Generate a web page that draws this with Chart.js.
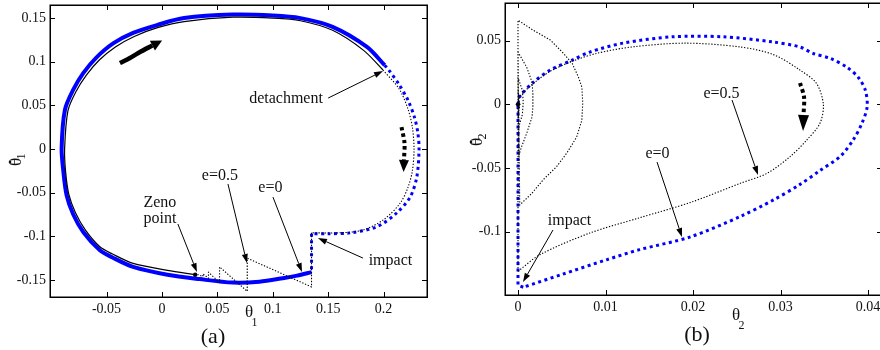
<!DOCTYPE html>
<html><head><meta charset="utf-8">
<script src="https://cdn.jsdelivr.net/npm/chart.js@4.4.1/dist/chart.umd.min.js"></script>
<style>
html,body{margin:0;padding:0;background:#fff;overflow:hidden;width:880px;height:350px;}
#wrap{position:relative;width:880px;height:350px;overflow:hidden;background:#fff;}
canvas{position:absolute;top:0;}
#ca{left:0;} #cb{left:440px;}
</style></head><body>
<div id="wrap"><canvas id="ca" width="440" height="350"></canvas><canvas id="cb" width="460" height="350"></canvas></div>
<script>
// ---------- DATA: panel (a)  [theta1, dtheta1] ----------
const aStanceE0 = [[0.135,-0.141],[0.122,-0.145],[0.109,-0.148],[0.088,-0.152],[0.064,-0.153],[0.034,-0.149],[0.005,-0.144],[-0.026,-0.135],[-0.045,-0.124],[-0.056,-0.116],[-0.071,-0.095],[-0.080,-0.075],[-0.086,-0.053],[-0.089,-0.025],[-0.0905,0.001],[-0.0875,0.045],[-0.080,0.068],[-0.071,0.087],[-0.059,0.105],[-0.044,0.121],[-0.026,0.133],[-0.0045,0.142],[0.020,0.150],[0.064,0.154],[0.100,0.153],[0.125,0.150],[0.154,0.140],[0.185,0.117],[0.201,0.096]];
const aFlightE0 = [[0.201,0.096],[0.205,0.090],[0.214,0.074],[0.222,0.056],[0.228,0.036],[0.231,0.018],[0.232,-0.001],[0.230,-0.032],[0.224,-0.055],[0.212,-0.073],[0.194,-0.089],[0.170,-0.096],[0.150,-0.097],[0.135,-0.097]];
const aImpactE0 = [[0.135,-0.097],[0.135,-0.141]];
const aStanceE05 = [[0.030,-0.144],[0.005,-0.139],[-0.026,-0.131],[-0.045,-0.120],[-0.056,-0.112],[-0.069,-0.093],[-0.078,-0.073],[-0.084,-0.052],[-0.087,-0.025],[-0.0878,0.001],[-0.0848,0.044],[-0.0775,0.066],[-0.068,0.085],[-0.0565,0.102],[-0.042,0.117],[-0.025,0.129],[-0.004,0.139],[0.020,0.146],[0.064,0.151],[0.100,0.150],[0.125,0.147],[0.154,0.136],[0.182,0.113],[0.1995,0.0905]];
const aFlightE05 = [[0.1995,0.0905],[0.214,0.069],[0.222,0.046],[0.226,0.025],[0.2275,0.000],[0.226,-0.025],[0.222,-0.044],[0.215,-0.062],[0.200,-0.081],[0.181,-0.093],[0.160,-0.096],[0.135,-0.096]];
const aImpactsE05 = [[0.135,-0.096],[0.135,-0.158],[0.077,-0.125],[0.077,-0.163],[0.052,-0.135],[0.052,-0.153],[0.042,-0.141],[0.042,-0.148],[0.037,-0.143],[0.037,-0.146],[0.033,-0.144],[0.030,-0.144]];
const aZeno = [[0.030,-0.144]];
const aArrowUp = [[-0.0379,0.0985],[-0.0289,0.1042],[-0.0190,0.1117],[-0.0086,0.1186]];
const aArrowDown = [[0.2162,0.0252],[0.2189,0.0069],[0.2184,-0.0126]];
const aTicksX = [-0.05,0,0.05,0.1,0.15,0.2];
const aTicksY = [-0.15,-0.1,-0.05,0,0.05,0.1,0.15];

// ---------- DATA: panel (b)  [theta2, dtheta2] ----------
const bFlightE0 = [[0,0],[0.0002,0.006],[0.0017,0.017],[0.0037,0.027],[0.0063,0.035],[0.0082,0.041],[0.012,0.048],[0.0177,0.053],[0.0234,0.053],[0.0291,0.049],[0.0322,0.045],[0.0337,0.040],[0.0357,0.036],[0.0376,0.029],[0.0389,0.021],[0.0397,0.011],[0.0399,-0.002],[0.0393,-0.015],[0.0383,-0.028],[0.0368,-0.041],[0.0345,-0.052],[0.0322,-0.063],[0.0292,-0.075],[0.0254,-0.088],[0.0197,-0.104],[0.0139,-0.114],[0.0101,-0.122],[0.005,-0.1335],[0.0006,-0.1435]];
const bImpactE0 = [[0.0006,-0.1435],[0,-0.142],[0,0]];
const bFlightE05 = [[0,0],[0.0002,0.006],[0.0017,0.016],[0.0037,0.026],[0.0063,0.034],[0.009,0.040],[0.013,0.045],[0.0191,0.048],[0.0254,0.045],[0.0292,0.039],[0.0322,0.027],[0.0341,0.0165],[0.0349,0.000],[0.0345,-0.015],[0.033,-0.028],[0.0311,-0.041],[0.0285,-0.054],[0.0254,-0.062],[0.0197,-0.077],[0.0139,-0.089],[0.0082,-0.101],[0.0025,-0.118],[0,-0.131]];
const bReboundsE05 = [[0,-0.131],[0,0.066],[0.0017,0.0583],[0.0037,0.0504],[0.0052,0.040],[0.0062,0.032],[0.0069,0.0214],[0.0073,0.0135],[0.0074,0.001],[0.0073,-0.0124],[0.0067,-0.0257],[0.0056,-0.038],[0.0044,-0.049],[0.0029,-0.059],[0.0016,-0.0697],[0.0002,-0.079],[0,0.041],[0.001,0.029],[0.0016,0.0175],[0.0017,0.0088],[0.0017,-0.002],[0.0016,-0.010],[0.001,-0.0226],[0.0004,-0.0334],[0.0001,-0.040],[0,0.021],[0.0005,0.011],[0.0006,0.002],[0.0005,-0.008],[0,-0.020],[0,0.010],[0.0002,0],[0,-0.010],[0,0]];
const bZeno = [[0,0]];
const bArrowDown = [[0.03223,0.0167],[0.03269,0.0057],[0.03263,-0.0084]];
const bTicksX = [0,0.01,0.02,0.03,0.04];
const bTicksY = [-0.1,-0.05,0,0.05];

// ---------- annotation layout (data coordinates) ----------
const aNotes = {
  texts: [['detachment',0.112,0.0573],['Zeno',-0.0018,-0.0613],['point',-0.0018,-0.0796],['e=0.5',0.0523,-0.0309],['e=0',0.0979,-0.0447],['impact',0.2062,-0.1283]],
  arrows: [[0.150,0.0584,0.1995,0.0893],[0.0144,-0.0859,0.0316,-0.141],[0.0596,-0.0401,0.0767,-0.1306],[0.1002,-0.055,0.1264,-0.1409],[0.1814,-0.1249,0.1408,-0.1019]]
};
const bNotes = {
  texts: [['e=0.5',0.02326,0.0081],['e=0',0.01594,-0.0390],['impact',0.00589,-0.0915]],
  arrows: [[0.02446,0.0034,0.02743,-0.0555],[0.01589,-0.0453,0.01874,-0.1041],[0.0040,-0.0986,0.00057,-0.1394]]
};

// ---------- rendering ----------
const FONT = "'Liberation Serif','Times New Roman',serif";
const BLUE = '#0000ff';
const INK = '#111';
const pts = arr => arr.map(p => ({x:p[0], y:p[1]}));
function ds(data, o){
  return Object.assign({data: pts(data), showLine:true, pointRadius:0, pointHoverRadius:0, fill:false, tension:0, borderCapStyle:'butt', borderJoinStyle:'round', borderColor:'#000'}, o);
}
function head(ctx, x1,y1,x2,y2,len,w, tipAtEnd){
  const dx=x2-x1, dy=y2-y1, d=Math.hypot(dx,dy)||1, ux=dx/d, uy=dy/d;
  let bx,by,tx,ty;
  if (tipAtEnd){ tx=x2; ty=y2; bx=x2-ux*len; by=y2-uy*len; }
  else { bx=x2; by=y2; tx=x2+ux*len; ty=y2+uy*len; }
  ctx.beginPath();
  ctx.moveTo(tx,ty);
  ctx.lineTo(bx-uy*w/2, by+ux*w/2);
  ctx.lineTo(bx+uy*w/2, by-ux*w/2);
  ctx.closePath(); ctx.fill();
  return [bx,by];
}
function titleText(ctx, x, y, main, sub, rot, dot, subDy){
  ctx.save(); ctx.translate(x,y); if (rot) ctx.rotate(-Math.PI/2);
  ctx.fillStyle=INK; ctx.font='17px '+FONT; ctx.textAlign='center'; ctx.textBaseline='middle';
  ctx.fillText(main,0,0);
  const w=ctx.measureText(main).width;
  if (dot){ ctx.beginPath(); ctx.arc(0,-7,1.3,0,2*Math.PI); ctx.fill(); }
  ctx.font='12px '+FONT; ctx.textAlign='left';
  ctx.fillText(sub, w/2-1.5, subDy);
  ctx.restore();
}
function deco(notes, xt, yt, titles){
  return {
    id:'deco',
    afterDatasetsDraw(chart){
      const {ctx, chartArea:a, scales:{x,y}} = chart;
      const X=v=>x.getPixelForValue(v), Y=v=>y.getPixelForValue(v);
      ctx.save();
      ctx.fillStyle='#000';
      chart.data.datasets.forEach((d,i)=>{
        if(!d.arrowHead) return;
        const el=chart.getDatasetMeta(i).data, p1=el[el.length-2], p2=el[el.length-1];
        head(ctx,p1.x,p1.y,p2.x,p2.y,d.arrowHead[0],d.arrowHead[1],false);
      });
      // frame with inward ticks
      ctx.strokeStyle='#000'; ctx.lineWidth=1.5;
      ctx.strokeRect(Math.round(a.left)+0.25, Math.round(a.top)+0.25, Math.round(a.right-a.left), Math.round(a.bottom-a.top));
      ctx.lineWidth=1;
      ctx.beginPath();
      xt.forEach(v=>{const p=Math.round(X(v))+0.5; ctx.moveTo(p,a.bottom); ctx.lineTo(p,a.bottom-5); ctx.moveTo(p,a.top); ctx.lineTo(p,a.top+5);});
      yt.forEach(v=>{const p=Math.round(Y(v))+0.5; ctx.moveTo(a.left,p); ctx.lineTo(a.left+5,p); ctx.moveTo(a.right,p); ctx.lineTo(a.right-5,p);});
      ctx.stroke();
      // annotation arrows
      ctx.lineWidth=1; ctx.strokeStyle='#000';
      notes.arrows.forEach(([x1,y1,x2,y2])=>{
        const sx=X(x1), sy=Y(y1), ex=X(x2), ey=Y(y2);
        const [bx,by]=head(ctx,sx,sy,ex,ey,9,6,true);
        ctx.beginPath(); ctx.moveTo(sx,sy); ctx.lineTo(bx,by); ctx.stroke();
      });
      ctx.fillStyle=INK; ctx.font='16px '+FONT; ctx.textAlign='center'; ctx.textBaseline='middle';
      notes.texts.forEach(([t,tx,ty])=>ctx.fillText(t,X(tx),Y(ty)));
      // axis titles and panel label
      titles.forEach(t=>titleText(ctx,t.x,t.y,'θ',t.sub,t.rot,t.dot,t.subDy));
      ctx.fillStyle=INK; ctx.font='22px '+FONT; ctx.textAlign='center'; ctx.textBaseline='middle';
      ctx.fillText(titles.panel[0], titles.panel[1], titles.panel[2]);
      ctx.restore();
    }
  };
}
function noPad(s){ s.paddingTop=0; s.paddingBottom=0; s.paddingLeft=0; s.paddingRight=0; }
function scaleCfg(xr, yr, xt, yt, yw, xh){
  const fmt = v => String(+(+v).toFixed(4));
  const common = {type:'linear', grid:{display:false, drawTicks:false}, border:{display:false}};
  return {
    x: Object.assign({}, common, {min:xr[0], max:xr[1],
      afterBuildTicks: s => { s.ticks = xt.map(v=>({value:v})); },
      afterFit: s => { s.height = xh; noPad(s); },
      ticks:{padding:4, color:INK, font:{family:FONT,size:14}, callback:fmt, maxRotation:0, autoSkip:false}}),
    y: Object.assign({}, common, {min:yr[0], max:yr[1],
      afterBuildTicks: s => { s.ticks = yt.map(v=>({value:v})); },
      afterFit: s => { s.width = yw; noPad(s); },
      ticks:{padding:4, color:INK, font:{family:FONT,size:14}, callback:fmt, autoSkip:false}})
  };
}
function baseOpts(pad, scales){
  return {responsive:false, animation:false, devicePixelRatio:1, events:[],
    layout:{autoPadding:false, padding:pad},
    plugins:{legend:{display:false}, tooltip:{enabled:false}},
    scales};
}
const DOT = {borderWidth:1.1, borderDash:[1.3,1.7]};

// panel (a)
const titlesA = [{x:249,y:313,sub:'1',rot:false,dot:false,subDy:10},{x:17,y:162,sub:'1',rot:true,dot:true,subDy:5}];
titlesA.panel = ['(a)',213,337];
new Chart(document.getElementById('ca'), {
  type:'scatter',
  data:{datasets:[
    ds(aStanceE0,{borderColor:BLUE, borderWidth:4, tension:0.3, order:5}),
    ds(aFlightE0,{borderColor:BLUE, borderWidth:3, borderDash:[3,3.5], tension:0.3, order:5}),
    ds(aImpactE0,{borderColor:BLUE, borderWidth:3, borderDash:[3,3.5], order:5}),
    ds(aStanceE05,{borderWidth:1.2, tension:0.3, order:2}),
    ds(aFlightE05,Object.assign({tension:0.3, order:2},DOT)),
    ds(aImpactsE05,Object.assign({order:2},DOT)),
    ds(aArrowUp,{borderWidth:4.5, tension:0.3, order:1, arrowHead:[11,11]}),
    ds(aArrowDown,{borderWidth:4, borderDash:[3.5,3], tension:0.3, order:1, arrowHead:[12,10]}),
    ds(aZeno,{showLine:false, pointRadius:2.2, backgroundColor:'#000', borderWidth:0, order:0})
  ]},
  options: baseOpts({left:0,right:13,top:5,bottom:0}, scaleCfg([-0.101,0.2392],[-0.1695,0.165],aTicksX,aTicksY,50,53)),
  plugins:[deco(aNotes,aTicksX,aTicksY,titlesA)]
});

// panel (b)
const titlesB = [{x:296,y:316,sub:'2',rot:false,dot:false,subDy:10},{x:38,y:142,sub:'2',rot:true,dot:true,subDy:5}];
titlesB.panel = ['(b)',257,335];
new Chart(document.getElementById('cb'), {
  type:'scatter',
  data:{datasets:[
    ds(bFlightE0,{borderColor:BLUE, borderWidth:3, borderDash:[3,3.5], tension:0.3, order:5}),
    ds(bImpactE0,{borderColor:BLUE, borderWidth:3, borderDash:[3,3.5], order:5}),
    ds(bFlightE05,Object.assign({tension:0.3, order:2},DOT)),
    ds(bReboundsE05,Object.assign({order:2},DOT)),
    ds(bArrowDown,{borderWidth:4, borderDash:[3.5,3], tension:0.3, order:1, arrowHead:[16,11]}),
    ds(bZeno,{showLine:false, pointRadius:2.2, backgroundColor:'#000', borderWidth:0, order:0})
  ]},
  options: baseOpts({left:0,right:18,top:3,bottom:0}, scaleCfg([-0.001486,0.0416],[-0.1496,0.0795],bTicksX,bTicksY,65,55)),
  plugins:[deco(bNotes,bTicksX,bTicksY,titlesB)]
});
</script>
</body></html>
